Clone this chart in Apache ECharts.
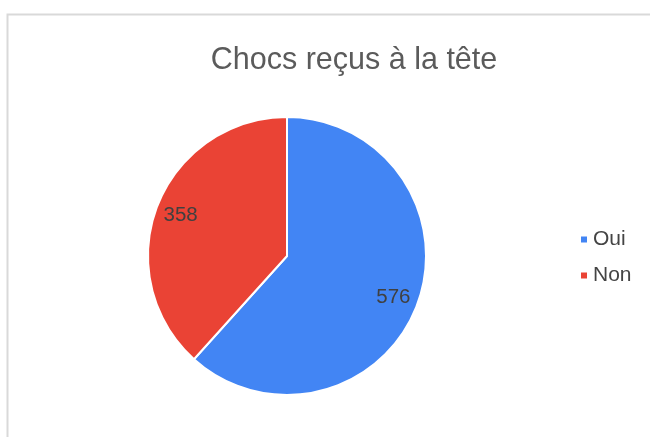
<!DOCTYPE html>
<html lang="fr">
<head>
    <meta charset="UTF-8">
    <title>Chocs reçus à la tête</title>
    <script src="https://cdn.jsdelivr.net/npm/echarts@6/dist/echarts.min.js"></script>
    <style>
        html, body {
            margin: 0;
            border: 0;
            background: #fff;
        }

        #chart {
            width: 650px;
            height: 437px;
        }
    </style>
</head>
<body>
<div id="chart"></div>
<script type="text/javascript">
    const categories = ['Oui', 'Non'];
    const values = [576, 358];
    const colors = ['#4285F4', '#EA4335'];

    const pieData = categories.map((name, i) => ({
        name: name,
        value: values[i],
        itemStyle: {color: colors[i]}
    }));

    window.onload = () => {
        const chart = echarts.init(document.querySelector('#chart'));
        const center = [287, 256];
        const option = {
            animation: false,
            textStyle: {fontFamily: 'Liberation Sans, Arial, sans-serif'},
            title: {
                text: 'Chocs reçus à la tête',
                left: 349,
                top: 40,
                textAlign: 'center',
                textStyle: {
                    fontSize: 30.5,
                    fontWeight: 'normal',
                    color: '#5b5b5b'
                }
            },
            legend: {
                orient: 'vertical',
                left: 574,
                top: 224,
                itemWidth: 8,
                itemHeight: 8,
                itemGap: 15,
                icon: 'rect',
                data: categories,
                textStyle: {fontSize: 21, color: '#444'}
            },
            graphic: [{
                type: 'rect',
                shape: {x: 7.5, y: 14.5, width: 700, height: 500},
                style: {fill: 'none', stroke: '#d9d9d9', lineWidth: 2},
                silent: true
            }],
            series: [
                {
                    type: 'pie',
                    center: center,
                    radius: 139,
                    startAngle: 90,
                    clockwise: true,
                    label: {show: false},
                    labelLine: {show: false},
                    itemStyle: {borderColor: '#fff', borderWidth: 2},
                    emphasis: {disabled: true},
                    data: pieData
                },
                {
                    // transparent ring only used to place the value labels further out
                    type: 'pie',
                    center: center,
                    radius: [83, 139],
                    startAngle: 90,
                    clockwise: true,
                    silent: true,
                    legendHoverLink: false,
                    itemStyle: {color: 'rgba(0,0,0,0)', borderWidth: 0},
                    label: {
                        show: true,
                        position: 'inside',
                        formatter: '{c}',
                        fontSize: 20.5,
                        color: '#404040'
                    },
                    labelLine: {show: false},
                    emphasis: {disabled: true},
                    data: categories.map((name, i) => ({name: name, value: values[i]}))
                }
            ]
        };
        chart.setOption(option, true);
    };
</script>
</body>
</html>
